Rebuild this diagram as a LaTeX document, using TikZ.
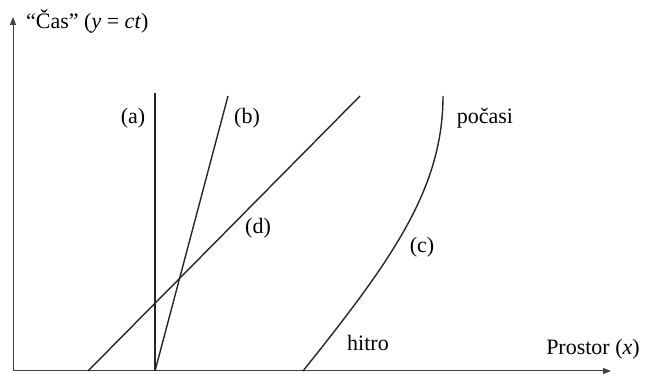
\documentclass[tikz,border=0pt]{standalone}
\usepackage{fontspec}
\setmainfont{Liberation Serif}
\usetikzlibrary{arrows.meta}
\begin{document}
\begin{tikzpicture}[x=1pt,y=-1pt,
  axis/.style={line width=1pt,draw=black!75,-{Triangle[length=8pt,width=6pt]}},
  world/.style={line width=1.4pt,draw=black!85},
  lbl/.style={font=\fontsize{22}{26}\selectfont,inner sep=0pt}]
\useasboundingbox (0,0) rectangle (646,374);
% axes
\coordinate (O) at (13,371);
\coordinate (ytop) at (13,17);
\coordinate (xend) at (611,371);
\draw[axis] (O) -- (ytop);
\draw[axis] (O) -- (xend);
% world lines
\coordinate (a0) at (155,371); \coordinate (a1) at (155,93);
\coordinate (b0) at (155,371); \coordinate (b1) at (228,96);
\coordinate (d0) at (88,371);  \coordinate (d1) at (360,96);
\coordinate (c0) at (303,371); \coordinate (c1) at (443,96);
\draw[world] (a0) -- (a1);
\draw[world] (b0) -- (b1);
\draw[world] (d0) -- (d1);
\draw[world] (c0) .. controls (390,262) and (443,190) .. (c1);
% labels
\node[lbl,anchor=west] (tlab) at (26,21) {“Čas” (\textit{y} = \textit{ct})};
\node[lbl] (xlab) at (593,349) {Prostor (\textit{x})};
\node[lbl] (la) at (133,118) {(a)};
\node[lbl] (lb) at (247,118) {(b)};
\node[lbl] (ld) at (258,228) {(d)};
\node[lbl] (lc) at (422,247) {(c)};
\node[lbl] (lh) at (368,343) {hitro};
\node[lbl] (lp) at (485,118) {počasi};
\end{tikzpicture}
\end{document}
